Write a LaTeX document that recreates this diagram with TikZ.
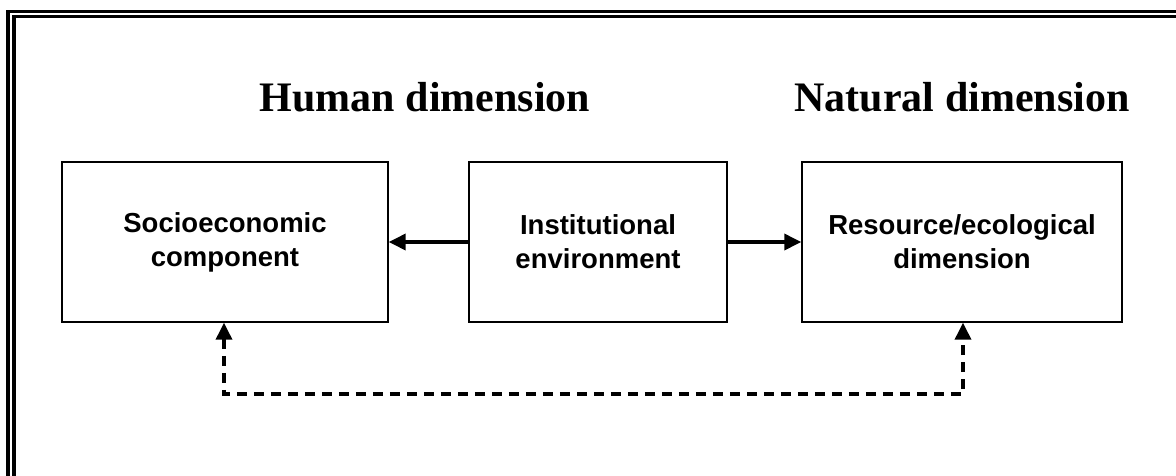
\documentclass[tikz,border=0pt]{standalone}
\usepackage{fontspec}
\setmainfont{Liberation Serif}
\newfontfamily\boxfont{Liberation Sans}
\usetikzlibrary{arrows.meta}

\tikzset{
  frameline/.style={line width=3.4pt, black},
  heading/.style={anchor=base, inner sep=0pt, font=\bfseries\fontsize{42}{48}\selectfont},
  compbox/.style={draw, line width=1.4pt, minimum height=160pt, align=center,
    inner sep=0pt, font=\boxfont\bfseries\fontsize{27.5}{34}\selectfont},
  flow/.style={line width=3.5pt, -{Triangle[length=17pt,width=16pt]}},
  feedback/.style={line width=3.5pt, dash pattern=on 10pt off 7pt,
    {Triangle[length=17pt,width=16pt]}-{Triangle[length=17pt,width=16pt]}}
}

\begin{document}
\begin{tikzpicture}[x=1pt, y=-1pt]
  \useasboundingbox (0,0) rectangle (1176,475);

  % double frame running off the page at right and bottom
  \draw[frameline] (8,520) -- (8,11.7) -- (1220,11.7);
  \draw[frameline] (13.8,520) -- (13.8,16.7) -- (1220,16.7);

  % headings
  \node[heading] (human) at (425,111) {Human dimension};
  \node[heading] (natural) at (962,111) {Natural dimension};

  % the three components
  \node[compbox, minimum width=326pt] (soc) at (225,242) {Socioeconomic\\component};
  \node[compbox, minimum width=258pt] (inst) at (598,242) {Institutional\\environment};
  \node[compbox, minimum width=320pt] (res) at (962,242) {Resource/ecological\\dimension};

  % institutional influences
  \draw[flow] (inst.west) -- (soc.east);
  \draw[flow] (inst.east) -- (res.west);

  % feedback loop between the two dimensions
  \coordinate (fbl) at (224,394);
  \coordinate (fbr) at (963,394);
  \draw[feedback] (soc.south -| fbl) -- (fbl) -- (fbr) -- (res.south -| fbr);
\end{tikzpicture}
\end{document}
